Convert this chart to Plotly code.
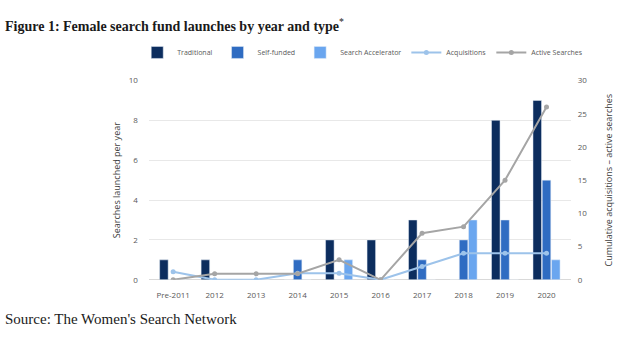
import plotly.graph_objects as go

categories = ["Pre-2011", "2012", "2013", "2014", "2015", "2016", "2017", "2018", "2019", "2020"]
traditional = [1, 1, 0, 0, 2, 2, 3, 0, 8, 9]
self_funded = [0, 0, 0, 1, 0, 0, 1, 2, 3, 5]
accelerator = [0, 0, 0, 0, 1, 0, 0, 3, 0, 1]
acquisitions = [1.2, 0, 0, 1, 1, 0, 2, 4, 4, 4]
active_searches = [0, 0.9, 0.9, 0.9, 3, 0, 7, 8, 15, 26]

left_ticks = [0, 2, 4, 6, 8, 10]
right_ticks = [0, 5, 10, 15, 20, 25, 30]

C_TRAD = "#0c2d5e"
C_SELF = "#2f6cc2"
C_ACC = "#6aa6ef"
C_ACQ = "#9dc3ea"
C_ACT = "#a5a5a5"
TICK = "#595959"
SANS = "Open Sans, Liberation Sans, sans-serif"
SERIF = "Liberation Serif, DejaVu Serif, serif"

fig = go.Figure()
fig.add_bar(x=categories, y=traditional, name="Traditional", marker_color=C_TRAD, yaxis="y")
fig.add_bar(x=categories, y=self_funded, name="Self-funded", marker_color=C_SELF, yaxis="y")
fig.add_bar(x=categories, y=accelerator, name="Search Accelerator", marker_color=C_ACC, yaxis="y")
fig.add_scatter(x=categories, y=acquisitions, name="Acquisitions", mode="lines+markers",
                line=dict(color=C_ACQ, width=2), marker=dict(size=5, color=C_ACQ), yaxis="y2")
fig.add_scatter(x=categories, y=active_searches, name="Active Searches", mode="lines+markers",
                line=dict(color=C_ACT, width=2), marker=dict(size=5, color=C_ACT), yaxis="y2")

fig.update_layout(
    width=642, height=338,
    margin=dict(l=0, r=0, t=0, b=0),
    paper_bgcolor="white", plot_bgcolor="white",
    barmode="group", bargap=0.33, bargroupgap=0.08,
    showlegend=True,
    legend=dict(orientation="h", x=0.565, xanchor="center", y=1 - 48 / 338, yanchor="middle",
                font=dict(family=SANS, size=7, color=TICK), itemwidth=30,
                traceorder="normal", bgcolor="rgba(0,0,0,0)"),
    xaxis=dict(domain=[0.232, 0.889], type="category", showgrid=False, showline=False,
               ticks="", ticklabelstandoff=9, tickfont=dict(family=SANS, size=8, color=TICK)),
    yaxis=dict(domain=[0.1627, 0.7722], range=[0, 10], tickvals=left_ticks,
               showgrid=True, gridcolor="#e8e8e8", gridwidth=1, zeroline=True,
               zerolinecolor="#d9d9d9", zerolinewidth=1, ticks="", ticklabelstandoff=10,
               tickfont=dict(family=SANS, size=8, color=TICK),
               title=dict(text="Searches launched per year", standoff=6,
                          font=dict(family=SANS, size=9, color="#404040"))),
    yaxis2=dict(overlaying="y", side="right", range=[0, 30], tickvals=right_ticks,
                showgrid=False, zeroline=False, ticks="", ticklabelstandoff=6,
                tickfont=dict(family=SANS, size=8, color=TICK),
                title=dict(text="Cumulative acquisitions – active searches", standoff=19,
                           font=dict(family=SANS, size=9, color="#404040"))),
    annotations=[
        dict(text="<b>Figure 1: Female search fund launches by year and type</b><sup>*</sup>",
             x=3 / 642, y=1 - 20 / 338, xref="paper", yref="paper", xanchor="left", yanchor="middle",
             showarrow=False, font=dict(family=SERIF, size=14, color="#1a1a1a")),
        dict(text="Source: The Women's Search Network",
             x=3 / 642, y=1 - 324 / 338, xref="paper", yref="paper", xanchor="left", yanchor="middle",
             showarrow=False, font=dict(family=SERIF, size=15, color="#1a1a1a")),
    ],
)

fig.write_html("out.html")
